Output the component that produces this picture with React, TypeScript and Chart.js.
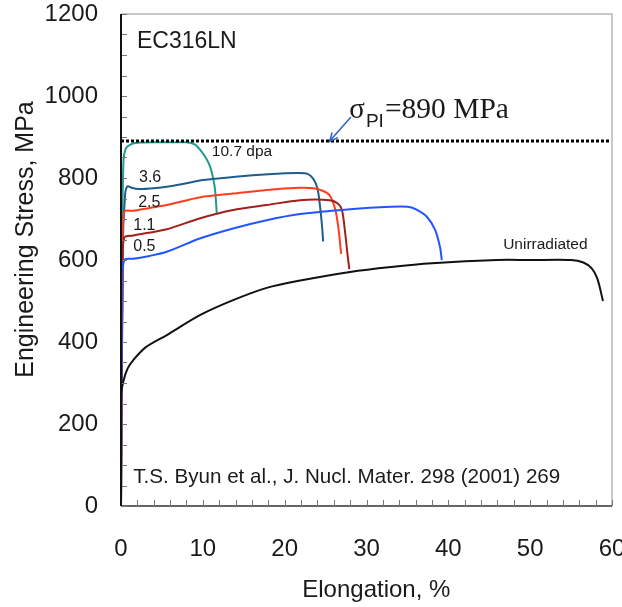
import React, { useEffect, useRef } from 'react';
import { Chart, registerables } from 'chart.js';

Chart.register(...registerables);

// ---- data (elongation %, engineering stress MPa) ----
const unirradiated: [number, number][] = [
  [0, 0], [0, 270], [0.3, 305], [0.8, 335], [1.5, 356], [3, 387], [5.6, 417], [9.7, 466],
  [13.7, 502], [17.8, 532], [21.9, 550], [28, 571], [33, 583], [38, 592], [46, 600],
  [50, 600], [55, 600], [56.5, 594], [57.5, 580], [58.2, 555], [58.9, 500],
];
const dpa0_5: [number, number][] = [
  [0, 0], [0.15, 540], [0.4, 600], [1.5, 603], [3.5, 610], [5.6, 620], [9.7, 653], [13.7, 677],
  [17.8, 697], [21.9, 712], [28, 724], [33, 730], [35, 730], [36, 724], [37.4, 705], [38.4, 673],
  [39, 630], [39.2, 600],
];
const dpa1_1: [number, number][] = [
  [0, 0], [0.2, 580], [0.4, 655], [1.5, 660], [5.6, 675], [9.7, 702], [13.7, 722], [17.8, 734],
  [21.9, 746], [25.5, 746], [26.5, 738], [27, 722], [27.4, 665], [27.7, 610], [27.9, 578],
];
const dpa2_5: [number, number][] = [
  [0, 0], [0.2, 600], [0.4, 718], [1.5, 720], [3.5, 727], [5.6, 734], [9.7, 753], [13.7, 762],
  [17.8, 771], [21.9, 776], [23.5, 775], [24.5, 770], [25.5, 758], [26.2, 722], [26.6, 673], [26.9, 615],
];
const dpa3_6: [number, number][] = [
  [0, 0], [0.2, 620], [0.5, 760], [0.8, 780], [1.3, 776], [2.2, 773], [4, 775], [6, 780], [8, 787],
  [10, 795], [14, 803], [18, 809], [21.5, 812], [22.8, 810], [23.5, 798], [24, 775], [24.3, 735],
  [24.6, 675], [24.7, 645],
];
const dpa10_7: [number, number][] = [
  [0, 0], [0.15, 650], [0.3, 840], [0.6, 872], [1.2, 882], [2, 886], [5, 887], [8, 887], [9, 882],
  [9.7, 868], [10.4, 848], [10.9, 827], [11.3, 795], [11.5, 770], [11.7, 715],
];
const plasticInstability: [number, number][] = [[0, 890], [60, 890]];

const xTicks = [0, 10, 20, 30, 40, 50, 60];
const yTicks = [0, 200, 400, 600, 800, 1000, 1200];

const SANS = "'Liberation Sans', Arial, sans-serif";
const SERIF = "'Liberation Serif', 'Times New Roman', serif";

const toPts = (a: [number, number][]) => a.map(([x, y]) => ({ x, y }));

const decorPlugin = {
  id: 'decor',
  afterDatasetsDraw(chart: any) {
    const { ctx, chartArea: ca, scales } = chart;
    const xs = scales.x;
    const ys = scales.y;
    const X = (v: number) => xs.getPixelForValue(v);
    const Y = (v: number) => ys.getPixelForValue(v);
    ctx.save();
    // frame top/right
    ctx.strokeStyle = '#c8c8c8';
    ctx.lineWidth = 2;
    ctx.beginPath();
    ctx.moveTo(ca.left, ca.top);
    ctx.lineTo(ca.right, ca.top);
    ctx.lineTo(ca.right, ca.bottom);
    ctx.stroke();
    // bottom axis
    ctx.strokeStyle = '#333';
    ctx.lineWidth = 1.5;
    ctx.beginPath();
    ctx.moveTo(ca.left, ca.bottom);
    ctx.lineTo(ca.right, ca.bottom);
    ctx.stroke();
    // inward ticks
    ctx.strokeStyle = '#777';
    ctx.lineWidth = 1;
    ctx.beginPath();
    for (let v = 0; v <= 1200; v += 50) {
      const py = Math.round(Y(v)) + 0.5;
      ctx.moveTo(ca.left, py);
      ctx.lineTo(ca.left + 6, py);
    }
    for (let v = 2; v <= 60; v += 2) {
      const px = Math.round(X(v)) + 0.5;
      ctx.moveTo(px, ca.bottom);
      ctx.lineTo(px, ca.bottom - 6);
    }
    ctx.stroke();
    // left axis
    ctx.strokeStyle = '#111';
    ctx.lineWidth = 2;
    ctx.beginPath();
    ctx.moveTo(ca.left, ca.top);
    ctx.lineTo(ca.left, ca.bottom);
    ctx.stroke();

    // axis titles
    ctx.fillStyle = '#1a1a1a';
    ctx.font = `25px ${SANS}`;
    ctx.textAlign = 'center';
    ctx.textBaseline = 'middle';
    ctx.save();
    ctx.translate(26, Y(650));
    ctx.rotate(-Math.PI / 2);
    ctx.fillText('Engineering Stress, MPa', 0, 0);
    ctx.restore();
    ctx.font = `24px ${SANS}`;
    ctx.fillText('Elongation, %', X(31.2), 590);

    // texts
    ctx.textBaseline = 'middle';
    ctx.textAlign = 'left';
    ctx.font = `23px ${SANS}`;
    ctx.fillText('EC316LN', X(1.95), Y(1132));
    ctx.font = `20.6px ${SANS}`;
    ctx.fillText('T.S. Byun et al., J. Nucl. Mater. 298 (2001) 269', X(1.5), Y(71));
    ctx.font = `15.5px ${SANS}`;
    ctx.fillText('10.7 dpa', X(11.1), Y(863));
    ctx.fillText('Unirradiated', X(46.7), Y(637));
    ctx.font = `16px ${SANS}`;
    ctx.fillText('3.6', X(2.2), Y(800));
    ctx.fillText('2.5', X(2.1), Y(741));
    ctx.fillText('1.1', X(1.5), Y(683));
    ctx.fillText('0.5', X(1.5), Y(632));

    // sigma label
    ctx.textBaseline = 'alphabetic';
    const bx = X(27.9);
    const by = Y(946);
    ctx.font = `29px ${SERIF}`;
    ctx.fillText('σ', bx, by);
    const sw = ctx.measureText('σ').width;
    ctx.font = `19px ${SANS}`;
    ctx.fillText('PI', bx + sw + 1, by + 9);
    const pw = ctx.measureText('PI').width;
    ctx.font = `29.5px ${SERIF}`;
    ctx.fillText('=890 MPa', bx + sw + pw + 2, by);

    // arrow
    const ax0 = X(28.1), ay0 = Y(949);
    const ax1 = X(25.5), ay1 = Y(890);
    ctx.strokeStyle = '#3060d0';
    ctx.lineWidth = 1.5;
    ctx.beginPath();
    ctx.moveTo(ax0, ay0);
    ctx.lineTo(ax1, ay1);
    ctx.stroke();
    const ang = Math.atan2(ay1 - ay0, ax1 - ax0);
    const hl = 9;
    ctx.beginPath();
    ctx.moveTo(ax1 - hl * Math.cos(ang - 0.45), ay1 - hl * Math.sin(ang - 0.45));
    ctx.lineTo(ax1, ay1);
    ctx.lineTo(ax1 - hl * Math.cos(ang + 0.45), ay1 - hl * Math.sin(ang + 0.45));
    ctx.stroke();
    ctx.restore();
  },
};

export default function App() {
  const ref = useRef<HTMLCanvasElement | null>(null);
  useEffect(() => {
    if (!ref.current) return;
    const line = (data: [number, number][], color: string, width = 2) => ({
      data: toPts(data),
      borderColor: color,
      backgroundColor: color,
      borderWidth: width,
      pointRadius: 0,
      tension: 0.3,
      fill: false,
      showLine: true,
    });
    const chart = new Chart(ref.current, {
      type: 'scatter',
      data: {
        datasets: [
          { ...line(plasticInstability, '#000', 3), borderDash: [3, 2], tension: 0 },
          line(unirradiated, '#111'),
          line(dpa0_5, '#2255ff'),
          line(dpa1_1, '#a3201a'),
          line(dpa2_5, '#ff3c1e'),
          line(dpa3_6, '#1f5d8c'),
          line(dpa10_7, '#1d9d8e'),
        ] as any,
      },
      options: {
        responsive: false,
        animation: false,
        layout: { padding: { left: 0, top: 14, right: 10, bottom: 0 } },
        plugins: { legend: { display: false }, tooltip: { enabled: false } },
        scales: {
          x: {
            type: 'linear',
            min: 0,
            max: 60,
            afterBuildTicks: (s: any) => { s.ticks = xTicks.map((v) => ({ value: v })); },
            afterFit: (s: any) => { s.height = 101; s.paddingLeft = 0; s.paddingRight = 0; },
            grid: { display: false, drawTicks: true, tickLength: 27 },
            border: { display: false },
            ticks: { font: { size: 24, family: SANS }, color: '#1a1a1a', padding: 2, maxRotation: 0, callback: (v: any) => String(v) },
            title: { display: false },
          },
          y: {
            type: 'linear',
            min: 0,
            max: 1200,
            afterBuildTicks: (s: any) => { s.ticks = yTicks.map((v) => ({ value: v })); },
            afterFit: (s: any) => { s.width = 121; s.paddingTop = 0; s.paddingBottom = 0; },
            grid: { display: false, drawTicks: false },
            border: { display: false },
            ticks: { font: { size: 24, family: SANS }, color: '#1a1a1a', padding: 23, callback: (v: any) => String(v) },
            title: { display: false },
          },
        },
      } as any,
      plugins: [decorPlugin],
    });
    return () => chart.destroy();
  }, []);
  return (
    <div style={{ position: 'fixed', left: 0, top: 0, width: 622, height: 607, background: '#fff' }}>
      <canvas ref={ref} width={622} height={607} style={{ display: 'block' }} />
    </div>
  );
}
